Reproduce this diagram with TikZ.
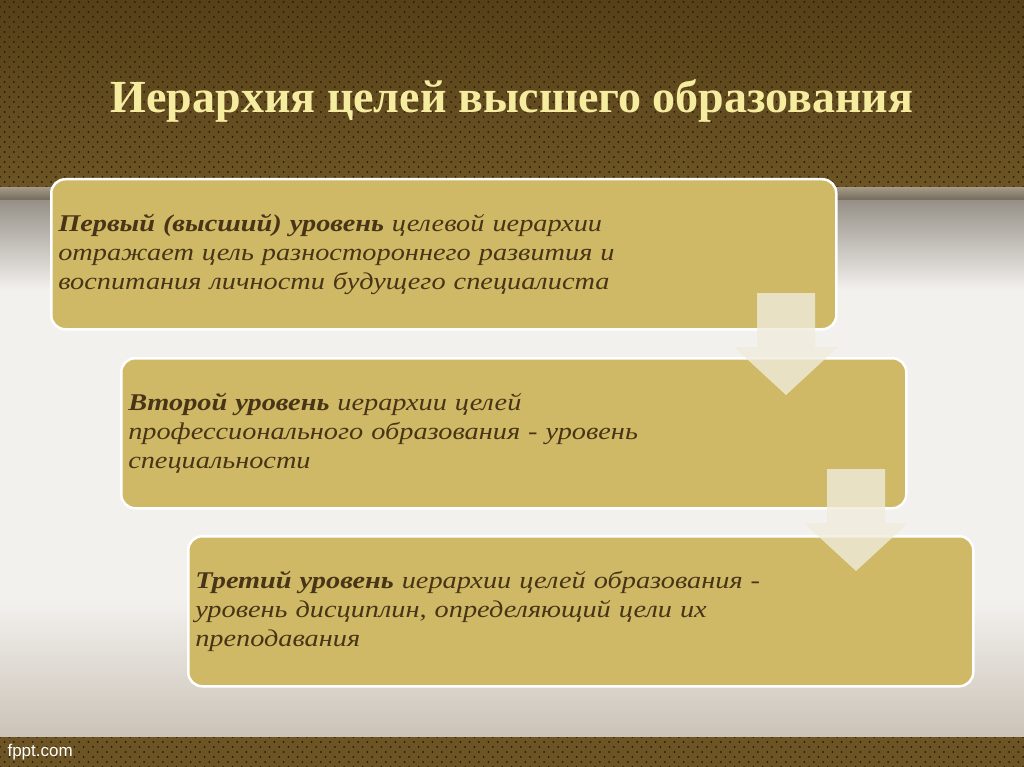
\documentclass[tikz,border=0pt]{standalone}
\usepackage{fontspec}
\setmainfont{Liberation Serif}
\setsansfont{Liberation Sans}
\newfontfamily\levelfont{Liberation Serif}[FakeStretch=1.18]
\usetikzlibrary{patterns}

\definecolor{headbrown}{RGB}{108,84,36}
\definecolor{headdark}{RGB}{86,64,24}
\definecolor{dotbrown}{RGB}{42,26,10}
\definecolor{titlecream}{RGB}{246,236,160}
\definecolor{levelgold}{RGB}{207,185,102}
\definecolor{leveltext}{RGB}{72,52,22}
\definecolor{arrowcream}{RGB}{240,235,220}
\definecolor{bandtop}{RGB}{165,155,135}
\definecolor{bandlow}{RGB}{115,106,92}
\definecolor{greytop}{RGB}{150,144,135}
\definecolor{greymid}{RGB}{243,241,238}
\definecolor{greylow}{RGB}{203,195,183}

% perforated leather look of the header and footer bands
\pgfdeclarepatternformonly{perforation}{\pgfqpoint{-2pt}{-2pt}}{\pgfqpoint{7pt}{7pt}}{\pgfqpoint{9.3pt}{10pt}}{%
  \pgfpathcircle{\pgfqpoint{0pt}{0pt}}{1pt}%
  \pgfpathcircle{\pgfqpoint{4.65pt}{5pt}}{1pt}%
  \pgfusepath{fill}}

\begin{document}
\begin{tikzpicture}[x=1pt,y=-1pt]
    \tikzstyle{level box}=[rectangle,rounded corners=14pt,fill=levelgold,draw=white,line width=2.5pt,
        minimum width=785pt,minimum height=150pt,anchor=north west,inner xsep=7pt,
        text width=771pt,align=left,text=leveltext,font=\levelfont\fontsize{24}{29}\selectfont\itshape]
    \tikzstyle{flow arrow}=[fill=arrowcream,fill opacity=0.8]
    \tikzstyle{holes}=[pattern=perforation,pattern color=dotbrown]
    \def\shaft{29}
    \def\head{52}

    \useasboundingbox (0,0) rectangle (1024,767);

    % Draw the background bands
    \fill[white] (0,0) rectangle (1024,767);
    \shade[top color=greytop,bottom color=greymid] (0,200) rectangle (1024,290);
    \fill[greymid] (0,290) rectangle (1024,600);
    \shade[top color=greymid,bottom color=greylow] (0,600) rectangle (1024,737);
    \shade[top color=bandtop,bottom color=bandlow] (0,187) rectangle (1024,200);
    \shade[top color=headdark,bottom color=headbrown] (0,0) rectangle (1024,187);
    \fill[holes] (0,0) rectangle (1024,187);
    \fill[headbrown] (0,737) rectangle (1024,767);
    \fill[holes] (0,737) rectangle (1024,767);

    % Title
    \node[text=titlecream,font=\fontsize{46}{50}\selectfont\bfseries] (title) at (512,101) {Иерархия целей высшего образования};

    % Draw the three levels
    \node[level box] (L-1) at (50,178) {\textbf{Первый (высший) уровень} целевой иерархии\\
        отражает цель разностороннего развития и\\
        воспитания личности будущего специалиста};
    \node[level box] (L-2) at (120,357) {\textbf{Второй уровень} иерархии целей\\
        профессионального образования - уровень\\
        специальности};
    \node[level box] (L-3) at (187,535) {\textbf{Третий уровень} иерархии целей образования -\\
        уровень дисциплин, определяющий цели их\\
        преподавания};

    % Down arrows between the levels
    \foreach \cx/\ty in {786/293,856/469}
        \fill[flow arrow] (\cx-\shaft,\ty) -- (\cx+\shaft,\ty) -- (\cx+\shaft,\ty+54) -- (\cx+\head,\ty+54)
            -- (\cx,\ty+102) -- (\cx-\head,\ty+54) -- (\cx-\shaft,\ty+54) -- cycle;

    % Footer
    \node[anchor=west,text=white,font=\sffamily\fontsize{17}{20}\selectfont] (site) at (4,752) {fppt.com};
\end{tikzpicture}
\end{document}
